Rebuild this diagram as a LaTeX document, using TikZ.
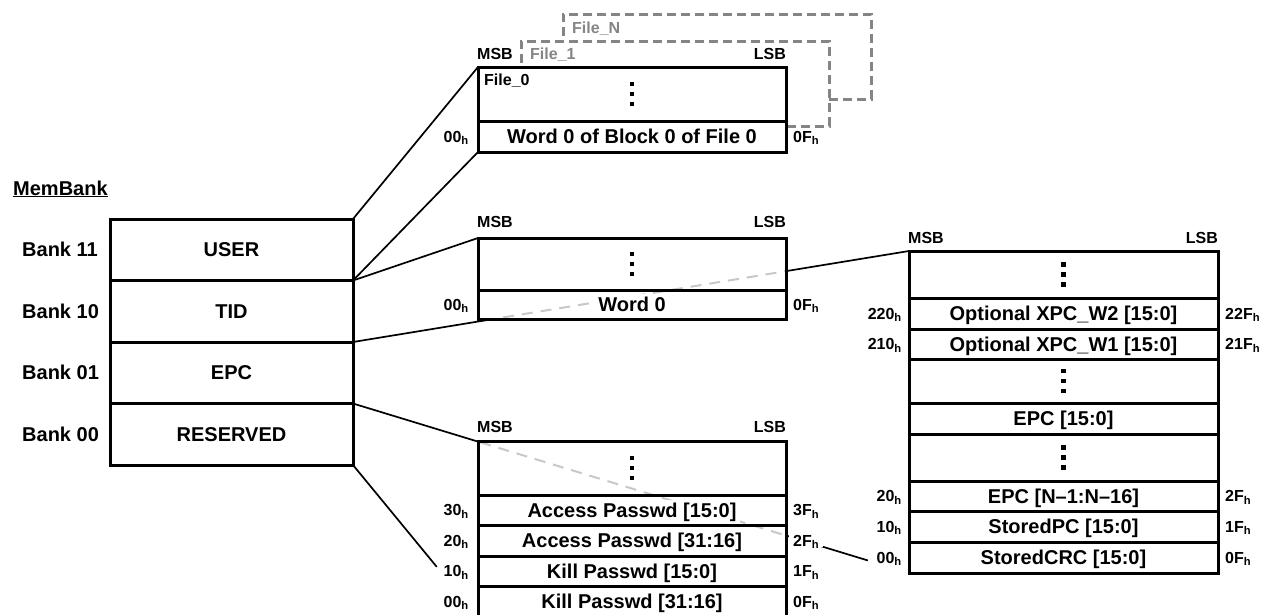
\documentclass[tikz,border=0pt]{standalone}
\usepackage{fontspec}
\setmainfont{Liberation Sans}
\usetikzlibrary{calc}
\pgfdeclarelayer{bg}
\pgfsetlayers{bg,main}
\definecolor{ghostgray}{HTML}{858585}
\definecolor{lightdash}{HTML}{C8C8C8}
\newcommand{\wbx}[1]{{\setlength{\fboxsep}{3pt}\colorbox{white}{#1}}}
\newcommand{\hx}[1]{#1\textsubscript{h}}
\begin{document}
\begin{tikzpicture}[x=1pt,y=-1pt,
  big/.style={font=\bfseries\fontsize{20}{24}\selectfont},
  small/.style={font=\bfseries\fontsize{16}{19}\selectfont},
  blk/.style={draw, line width=3pt, fill=white, inner sep=0pt, outer sep=0pt, anchor=north west, minimum width=308pt},
  cell/.style={draw, line width=3pt, inner sep=0pt, outer sep=0pt, anchor=north west, minimum width=308pt, big, text height=14.3pt, text depth=0pt},
  bank/.style={draw, line width=3pt, fill=white, inner sep=0pt, outer sep=0pt, anchor=north west, minimum width=243pt, minimum height=61.5pt, big, text height=14.3pt, text depth=0pt},
  conn/.style={line width=1.7pt},
  ghost/.style={draw=ghostgray, fill=white, line width=3pt, dash pattern=on 9pt off 5pt, inner sep=0pt, outer sep=0pt, anchor=north west, minimum width=308pt, minimum height=85pt},
  hidden/.style={draw=lightdash, line width=2pt, dash pattern=on 11pt off 8pt},
  addrL/.style={small, anchor=east, fill=white, inner sep=1pt, text height=11.5pt, text depth=0pt},
  addrR/.style={small, anchor=west, fill=white, inner sep=1pt, text height=11.5pt, text depth=0pt},
  bitlbl/.style={small, inner sep=0pt},
  banklbl/.style={big, anchor=west, inner sep=0pt, text height=14.3pt, text depth=0pt},
  vdots/.pic={\foreach \d in {-10,0,10} \fill (-2.4,\d-2.4) rectangle ++(4.8,4.8);}
]
\useasboundingbox (0,0) rectangle (1261,614);

% ---------- MemBank ----------
\node[big, anchor=base west, inner sep=0pt] (mb) at (13,195) {\underline{MemBank}};
\node[bank] (buser) at (110,219) {USER};
\node[bank] (btid) at (110,280.5) {TID};
\node[bank] (bepc) at (110,342) {EPC};
\node[bank] (bres) at (110,403.5) {RESERVED};
\node[banklbl] (l11) at (22,249.75) {Bank 11};
\node[banklbl] (l10) at (22,311.25) {Bank 10};
\node[banklbl] (l01) at (22,372.75) {Bank 01};
\node[banklbl] (l00) at (22,434.25) {Bank 00};

% ---------- EPC memory ----------
\node[blk, minimum width=309pt, minimum height=322pt] (eblk) at (909,251) {};
\node[cell, minimum width=309pt, minimum height=47pt] (e8) at (909,251) {};
\node[cell, minimum width=309pt, minimum height=31pt] (e7) at (909,298) {Optional XPC\_W2 [15:0]};
\node[cell, minimum width=309pt, minimum height=30pt] (e6) at (909,329) {Optional XPC\_W1 [15:0]};
\node[cell, minimum width=309pt, minimum height=44pt] (e5) at (909,359) {};
\node[cell, minimum width=309pt, minimum height=31pt] (e4) at (909,403) {EPC [15:0]};
\node[cell, minimum width=309pt, minimum height=47pt] (e3) at (909,434) {};
\node[cell, minimum width=309pt, minimum height=30pt] (e2) at (909,481) {EPC [N–1:N–16]};
\node[cell, minimum width=309pt, minimum height=31pt] (e1) at (909,511) {StoredPC [15:0]};
\node[cell, minimum width=309pt, minimum height=31pt] (e0) at (909,542) {StoredCRC [15:0]};
\pic at (e8.center) {vdots};
\pic at (e5.center) {vdots};
\pic at (e3.center) {vdots};
\node[bitlbl, anchor=base west] (emsb) at (908,243) {MSB};
\node[bitlbl, anchor=base east] (elsb) at (1218,243) {LSB};

% ---------- coordinates for free ends ----------
\coordinate (epcend) at ($(bres.north east)!0.926!(eblk.south west)$);

% ---------- ghost files behind USER memory ----------
\node[ghost] (fN) at (563,14) {};
\node[small, text=ghostgray, anchor=base west, inner sep=0pt] (fNl) at (572,33) {File\_N};
\node[ghost] (f1) at (521,41) {};
\node[small, text=ghostgray, anchor=base west, inner sep=0pt] (f1l) at (530,59) {File\_1};

% ---------- USER memory ----------
\node[blk, minimum height=85pt] (ublk) at (478,67) {};
\node[cell, minimum height=54pt] (u1) at (478,67) {};
\node[cell, minimum height=31pt] (u0) at (478,121) {Word 0 of Block 0 of File 0};
\pic at (u1.center) {vdots};
\node[small, anchor=base west, inner sep=0pt] (f0) at (484,85) {File\_0};
\node[bitlbl, anchor=base west] (umsb) at (477,59) {MSB};
\node[bitlbl, anchor=base east] (ulsb) at (786,59) {LSB};

% ---------- TID memory ----------
\node[blk, minimum height=81pt] (tblk) at (478,238) {};
\begin{scope}
  \clip (tblk.north west) rectangle (tblk.south east);
  \draw[hidden] (bepc.north east) -- (eblk.north west);
\end{scope}
\node[cell, minimum height=52pt] (t1) at (478,238) {};
\node[cell, minimum height=29pt] (t0) at (478,290) {\wbx{Word 0}};
\pic at (t1.center) {vdots};
\node[bitlbl, anchor=base west] (tmsb) at (477,227) {MSB};
\node[bitlbl, anchor=base east] (tlsb) at (786,227) {LSB};

% ---------- RESERVED memory ----------
\node[blk, minimum height=176pt] (rblk) at (478,441) {};
\begin{scope}
  \clip (rblk.north west) rectangle (rblk.south east);
  \draw[hidden] (bres.north east) -- (epcend);
\end{scope}
\node[cell, minimum height=54pt] (r4) at (478,441) {};
\node[cell, minimum height=30pt] (r3) at (478,495) {\wbx{Access Passwd [15:0]}};
\node[cell, minimum height=31pt] (r2) at (478,525) {\wbx{Access Passwd [31:16]}};
\node[cell, minimum height=30pt] (r1) at (478,556) {Kill Passwd [15:0]};
\node[cell, minimum height=31pt] (r0) at (478,586) {Kill Passwd [31:16]};
\pic at (r4.center) {vdots};
\node[bitlbl, anchor=base west] (rmsb) at (477,432) {MSB};
\node[bitlbl, anchor=base east] (rlsb) at (786,432) {LSB};

\coordinate (resend) at ($(bres.south east)!0.67!(rblk.south west)$);

% ---------- connectors (behind everything) ----------
\begin{pgfonlayer}{bg}
  \draw[conn] (buser.north east) -- (ublk.north west);
  \draw[conn] (btid.north east) -- (ublk.south west);
  \draw[conn] (btid.north east) -- (tblk.north west);
  \draw[conn] (bepc.north east) -- (eblk.north west);
  \draw[conn] (bres.north east) -- (epcend);
  \draw[conn] (bres.south east) -- (resend);
\end{pgfonlayer}

% ---------- address labels ----------
\node[addrL] (ua0) at (u0.west) [xshift=-8pt] {\hx{00}};
\node[addrR] (uaf) at (u0.east) [xshift=6pt] {\hx{0F}};
\node[addrL] (ta0) at (t0.west) [xshift=-8pt] {\hx{00}};
\node[addrR] (taf) at (t0.east) [xshift=6pt] {\hx{0F}};

\node[addrL] (ra3) at (r3.west) [xshift=-8pt] {\hx{30}};
\node[addrL] (ra2) at (r2.west) [xshift=-8pt] {\hx{20}};
\node[addrL] (ra1) at (r1.west) [xshift=-8pt] {\hx{10}};
\node[addrL] (ra0) at (r0.west) [xshift=-8pt] {\hx{00}};
\node[addrR] (rb3) at (r3.east) [xshift=6pt] {\hx{3F}};
\node[addrR, inner xsep=4pt] (rb2) at (r2.east) [xshift=3pt] {\hx{2F}};
\node[addrR] (rb1) at (r1.east) [xshift=6pt] {\hx{1F}};
\node[addrR] (rb0) at (r0.east) [xshift=6pt] {\hx{0F}};

\node[addrL] (ea7) at (e7.west) [xshift=-6pt] {\hx{220}};
\node[addrL] (ea6) at (e6.west) [xshift=-6pt] {\hx{210}};
\node[addrL] (ea2) at (e2.west) [xshift=-6pt] {\hx{20}};
\node[addrL] (ea1) at (e1.west) [xshift=-6pt] {\hx{10}};
\node[addrL] (ea0) at (e0.west) [xshift=-6pt] {\hx{00}};
\node[addrR] (eb7) at (e7.east) [xshift=6pt] {\hx{22F}};
\node[addrR] (eb6) at (e6.east) [xshift=6pt] {\hx{21F}};
\node[addrR] (eb2) at (e2.east) [xshift=6pt] {\hx{2F}};
\node[addrR] (eb1) at (e1.east) [xshift=6pt] {\hx{1F}};
\node[addrR] (eb0) at (e0.east) [xshift=6pt] {\hx{0F}};
\end{tikzpicture}
\end{document}
